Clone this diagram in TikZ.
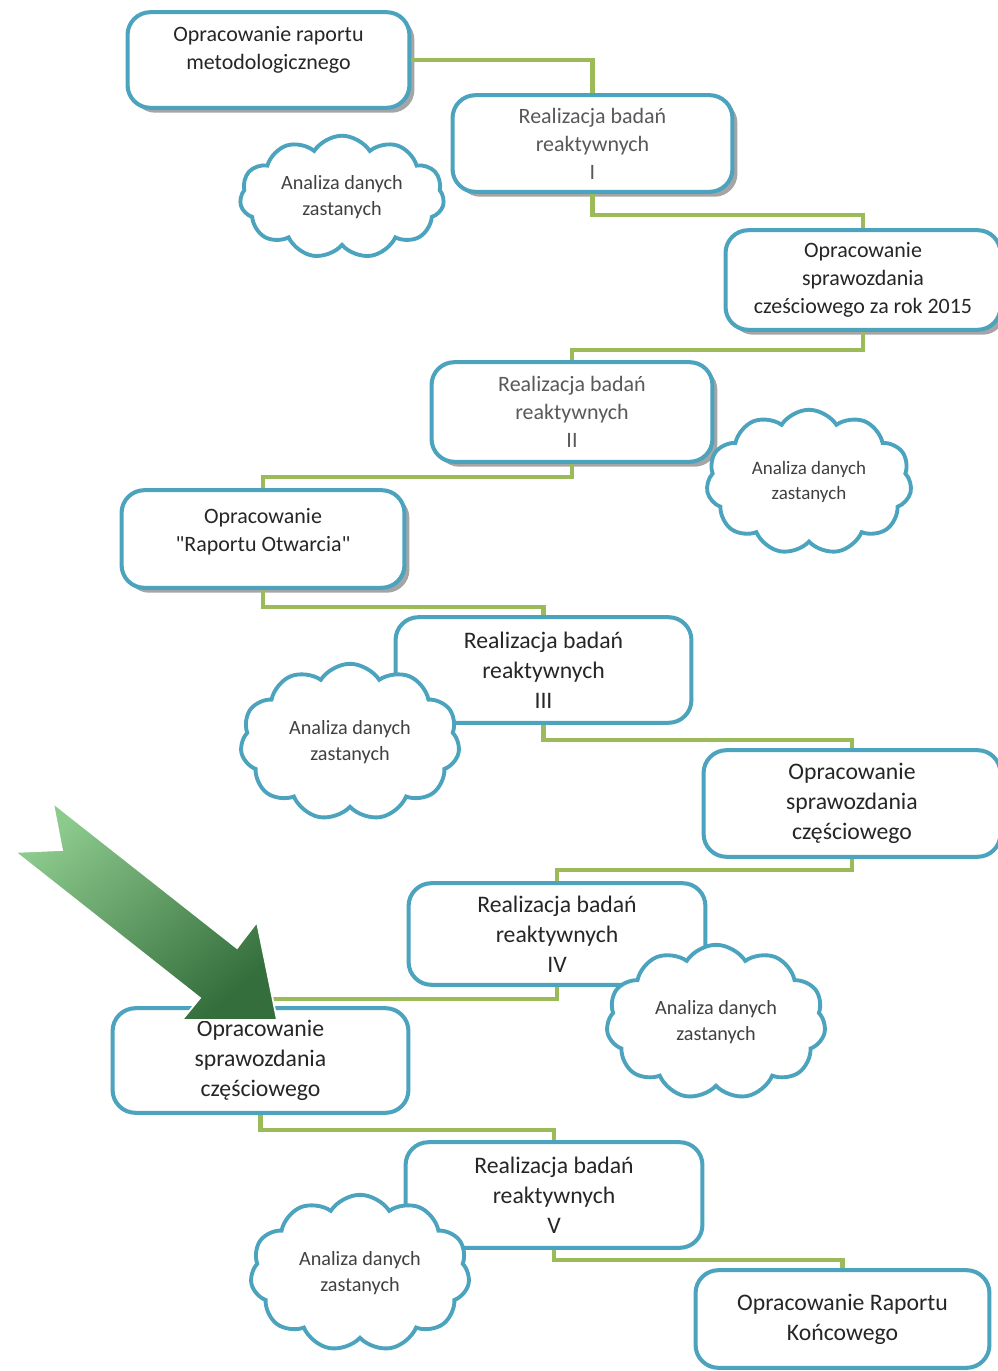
\documentclass[tikz,border=0pt]{standalone}
\usepackage{fontspec}
\setmainfont{Carlito}
\usetikzlibrary{shapes.symbols,shadows}
\definecolor{ramka}{RGB}{75,163,190}
\definecolor{linia}{RGB}{155,187,89}
\definecolor{jasna}{RGB}{140,201,140}
\definecolor{ciemna}{RGB}{52,110,60}
\begin{document}
\begin{tikzpicture}[x=0.02cm,y=-0.02cm,
    box/.style={draw=ramka,line width=2.3pt,fill=white,rounded corners=13pt,
      align=center,inner sep=2pt,text=black!85},
    boxsh/.style={box,drop shadow={shadow xshift=2.8pt,shadow yshift=-2.8pt,fill=black!50,opacity=.7}},
    realiz/.style={text=black!65,font=\fontsize{12.5}{16}\selectfont},
    oprac/.style={font=\fontsize{12.5}{16}\selectfont},
    oprac2/.style={font=\fontsize{13.5}{17}\selectfont},
    chmurka/.style={cloud,cloud puffs=11,cloud puff arc=115,cloud ignores aspect,
      draw=ramka,line width=2.2pt,fill=white,align=center,inner sep=0pt,
      text=black!75,font=\fontsize{11.5}{15}\selectfont},
    link/.style={draw=linia,line width=2.6pt}]
  \useasboundingbox (0,0) rectangle (997,1371);
  \fill[white] (0,0) rectangle (997,1371);

  % etapy
  \node[boxsh,oprac,minimum width=283*0.567pt,minimum height=96*0.567pt] (A) at (268.5,60)
    {Opracowanie raportu\\metodologicznego\\[-2.5pt]};
  \node[boxsh,realiz,minimum width=281*0.567pt,minimum height=97*0.567pt] (B) at (592.5,143.5)
    {Realizacja badań\\reaktywnych\\I};
  \node[boxsh,oprac,minimum width=276*0.567pt,minimum height=100*0.567pt] (C) at (863,280)
    {Opracowanie\\sprawozdania\\cześciowego za rok 2015};
  \node[boxsh,realiz,minimum width=282*0.567pt,minimum height=100*0.567pt] (D) at (572,412)
    {Realizacja badań\\reaktywnych\\II};
  \node[boxsh,oprac,minimum width=284*0.567pt,minimum height=98*0.567pt] (E) at (263,539)
    {Opracowanie\\\textquotedbl Raportu Otwarcia\textquotedbl\\[-6pt]};
  \node[box,oprac2,minimum width=297*0.567pt,minimum height=106*0.567pt] (F) at (543.5,670)
    {Realizacja badań\\reaktywnych\\III};
  \node[box,oprac2,minimum width=298*0.567pt,minimum height=107*0.567pt] (G) at (852,803.5)
    {Opracowanie\\sprawozdania\\częściowego};
  \node[box,oprac2,minimum width=298*0.567pt,minimum height=102*0.567pt] (H) at (557,934)
    {Realizacja badań\\reaktywnych\\IV};
  \node[box,oprac2,minimum width=297*0.567pt,minimum height=105*0.567pt] (I) at (260.5,1060.5)
    {Opracowanie\\sprawozdania\\częściowego};
  \node[box,oprac2,minimum width=298*0.567pt,minimum height=106*0.567pt] (J) at (554,1195)
    {Realizacja badań\\reaktywnych\\V};
  \node[box,oprac2,minimum width=295*0.567pt,minimum height=98*0.567pt] (K) at (842.5,1319)
    {Opracowanie Raportu\\Końcowego};

  % polaczenia
  \draw[link] (A.east) -| (B.north);
  \draw[link] (B.south) -- ++(0,21) -| (C.north);
  \draw[link] (C.south) -- ++(0,18) -| (D.north);
  \draw[link] (D.south) -- ++(0,13) -| (E.north);
  \draw[link] (E.south) -- ++(0,17) -| (F.north);
  \draw[link] (F.south) -- ++(0,15) -| (G.north);
  \draw[link] (G.south) -- ++(0,11) -| (H.north);
  \draw[link] (H.south) -- ++(0,12) -| (I.north);
  \draw[link] (I.south) -- ++(0,15) -| (J.north);
  \draw[link] (J.south) -- ++(0,10) -| (K.north);

  % chmurki
  \node[chmurka,minimum width=205*0.567pt,minimum height=123*0.567pt] (c1) at (342,197)
    {Analiza danych\\zastanych};
  \node[chmurka,font=\fontsize{10.8}{14}\selectfont,minimum width=206*0.567pt,minimum height=145*0.567pt] (c2) at (809,482)
    {Analiza danych\\zastanych};
  \node[chmurka,minimum width=220*0.567pt,minimum height=157*0.567pt] (c3) at (350,742)
    {Analiza danych\\zastanych};
  \node[chmurka,minimum width=220*0.567pt,minimum height=155*0.567pt] (c4) at (716,1022)
    {Analiza danych\\zastanych};
  \node[chmurka,minimum width=220*0.567pt,minimum height=157*0.567pt] (c5) at (360,1273)
    {Analiza danych\\zastanych};

  % strzalka
  \shade[draw=white,line width=1pt,top color=jasna,bottom color=ciemna,shading angle=40]
    (53,803) -- (237,948) -- (257,922) -- (277,1020) -- (182,1020) -- (200,998)
    -- (15,852) -- (62,850) -- cycle;
\end{tikzpicture}
\end{document}
